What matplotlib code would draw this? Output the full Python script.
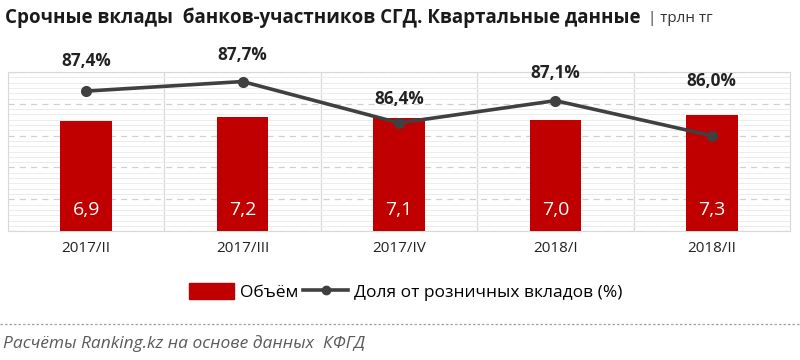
import matplotlib
matplotlib.use("Agg")
import matplotlib.pyplot as plt
from matplotlib.patches import Patch
from matplotlib.lines import Line2D
from matplotlib.ticker import MultipleLocator

plt.rcParams["font.family"] = ["Open Sans", "DejaVu Sans"]

quarters = ["2017/II", "2017/III", "2017/IV", "2018/I", "2018/II"]
volume = [6.9, 7.2, 7.1, 7.0, 7.3]
share = [87.4, 87.7, 86.4, 87.1, 86.0]

title = "Срочные вклады  банков-участников СГД. Квартальные данные"
unit = "| трлн тг"
source = "Расчёты Ranking.kz на основе данных  КФГД"

bar_color = "#C00000"
line_color = "#404040"
grid_color = "#d9d9d9"

fig = plt.figure(figsize=(8, 3.6), dpi=100)
ax = fig.add_axes([0.01, 0.358, 0.9775, 0.442])
ax2 = ax.twinx()

x = range(len(quarters))
bars = ax.bar(x, volume, width=0.33, color=bar_color, zorder=3)
ax.set_ylim(0, 10)
ax.set_xlim(-0.5, len(quarters) - 0.5)
ax.yaxis.set_major_locator(MultipleLocator(2))
ax.yaxis.set_minor_locator(MultipleLocator(2 / 6))
ax.grid(axis="y", which="major", color="#d0d0d0", linestyle=(0, (5, 4)), linewidth=0.9, zorder=0)
ax.grid(axis="y", which="minor", color="#ececec", linewidth=0.7, zorder=0)
for b in [i + 0.5 for i in range(len(quarters) - 1)]:
    ax.axvline(b, color=grid_color, linewidth=0.9, zorder=1)
ax.tick_params(axis="y", which="both", length=0, labelleft=False)
ax.set_xticks(list(x))
ax.set_xticklabels(quarters, fontsize=11, color="#222222")
ax.tick_params(axis="x", length=0, pad=7)
for s in ax.spines.values():
    s.set_color(grid_color)
for rect, v in zip(bars, volume):
    ax.text(rect.get_x() + rect.get_width() / 2, 1.3, f"{v:.1f}".replace(".", ","),
            ha="center", va="center", color="white", fontsize=14, zorder=4)

ax2.plot(list(x), share, color=line_color, linewidth=2.6, marker="o", markersize=7, zorder=5)
ax2.set_ylim(83, 88)
ax2.set_yticks([])
for s in ax2.spines.values():
    s.set_visible(False)
label_offsets = [22, 19, 17, 20, 39]
for i, v in enumerate(share):
    ax2.annotate(f"{v:.1f}%".replace(".", ","), (i, v), xytext=(0, label_offsets[i]),
                 textcoords="offset points", ha="center", va="center",
                 fontsize=12.3, fontweight="bold", color="#222222", annotation_clip=False)

fig.text(0.006, 0.952, title, fontsize=13.5, fontweight="bold", color="#1a1a1a", va="center")
fig.text(0.81, 0.948, unit, fontsize=11, color="#333333", va="center")

handles = [Patch(color=bar_color),
           Line2D([0], [0], color=line_color, linewidth=2.6, marker="o", markersize=6)]
fig.legend(handles, ["Объём", "Доля от розничных вкладов (%)"], loc="center",
           bbox_to_anchor=(0.507, 0.188), ncol=2, frameon=False, fontsize=12.5,
           handlelength=2.6, handleheight=1.0, columnspacing=0.3, handletextpad=0.3)

fig.add_artist(Line2D([0, 1], [0.1, 0.1], color="#a0a0a0", linewidth=0.9,
                      linestyle=(0, (2, 1.6)), transform=fig.transFigure))
fig.text(0.004, 0.047, source, fontsize=12.5, style="italic", color="#5a5a5a", va="center")

fig.savefig("out.png", dpi=100)
